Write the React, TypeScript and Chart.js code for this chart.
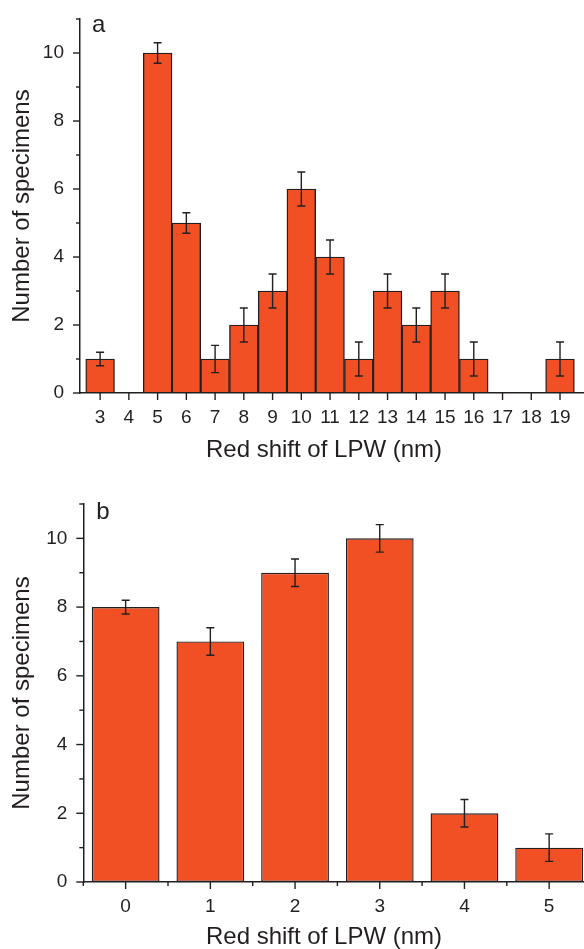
import React, { useEffect, useRef } from 'react';
import { Chart, registerables } from 'chart.js';

Chart.register(...registerables);

// ---------- data ----------
const shiftA = [3, 4, 5, 6, 7, 8, 9, 10, 11, 12, 13, 14, 15, 16, 17, 18, 19];
const countA = [1, 0, 10, 5, 1, 2, 3, 6, 4, 1, 3, 2, 3, 1, 0, 0, 1];
const errA = [0.2, 0, 0.3, 0.3, 0.4, 0.5, 0.5, 0.5, 0.5, 0.5, 0.5, 0.5, 0.5, 0.5, 0, 0, 0.5];

const shiftB = [0, 1, 2, 3, 4, 5];
const countB = [8, 7, 9, 10, 2, 1];
const errB = [0.2, 0.4, 0.4, 0.4, 0.4, 0.4];

const xTitle = 'Red shift of LPW (nm)';
const yTitle = 'Number of specimens';

// ---------- styles ----------
const INK = '#231f20';
const BAR = '#f05023';
const FAMILY = '"Liberation Sans", Arial, Helvetica, sans-serif';
const TICK_FONT = { family: FAMILY, size: 19 };
const TITLE_FONT = { family: FAMILY, size: 24 };

type Cfg = {
  xs: number[];
  ys: number[];
  errs: number[];
  letter: string;
  width: number;
  height: number;
  padTop: number;
  padRight: number;
  yAxisWidth: number;
  xAxisHeight: number;
  xMin: number;
  xMax: number;
  minorX: boolean;
  barPct: number;
  xTitleX: number;
  xTitleY: number;
  letterDx: number;
  letterDy: number;
};

function decorPlugin(cfg: Cfg) {
  return {
    id: 'decor',
    afterDatasetsDraw(chart: any) {
      const ctx = chart.ctx;
      const xs = chart.scales.x;
      const ys = chart.scales.y;
      const area = chart.chartArea;
      const meta = chart.getDatasetMeta(0);
      ctx.save();
      ctx.strokeStyle = INK;
      ctx.lineWidth = 1.4;
      // error bars
      meta.data.forEach((el: any, i: number) => {
        const e = cfg.errs[i];
        if (!e) return;
        const v = cfg.ys[i];
        const x = el.x;
        const y1 = ys.getPixelForValue(v + e);
        const y2 = ys.getPixelForValue(v - e);
        ctx.beginPath();
        ctx.moveTo(x, y1);
        ctx.lineTo(x, y2);
        ctx.moveTo(x - 4, y1);
        ctx.lineTo(x + 4, y1);
        ctx.moveTo(x - 4, y2);
        ctx.lineTo(x + 4, y2);
        ctx.stroke();
      });
      // y ticks
      ys.ticks.forEach((t: any) => {
        const len = t.value % 2 === 0 ? 7 : 4;
        const py = ys.getPixelForValue(t.value);
        ctx.beginPath();
        ctx.moveTo(area.left - len, py);
        ctx.lineTo(area.left, py);
        ctx.stroke();
      });
      // x ticks (major at categories, optional minor between)
      xs.ticks.forEach((t: any, i: number) => {
        const px = xs.getPixelForValue(t.value);
        ctx.beginPath();
        ctx.moveTo(px, area.bottom);
        ctx.lineTo(px, area.bottom + 7);
        if (cfg.minorX) {
          const mx = xs.getPixelForValue(t.value + 0.5);
          ctx.moveTo(mx, area.bottom);
          ctx.lineTo(mx, area.bottom + 4);
          if (i === 0) {
            const lx = xs.getPixelForValue(t.value - 0.5);
            ctx.moveTo(lx, area.bottom);
            ctx.lineTo(lx, area.bottom + 4);
          }
        }
        ctx.stroke();
      });
      ctx.fillStyle = INK;
      // x axis title
      ctx.font = `24px ${FAMILY}`;
      ctx.textBaseline = 'middle';
      ctx.textAlign = 'center';
      ctx.fillText(xTitle, cfg.xTitleX, cfg.xTitleY);
      // panel letter
      ctx.textBaseline = 'alphabetic';
      ctx.textAlign = 'left';
      ctx.fillText(cfg.letter, area.left + cfg.letterDx, area.top + cfg.letterDy);
      ctx.restore();
    },
  };
}

function BarPanel({ cfg, top }: { cfg: Cfg; top: number }) {
  const ref = useRef<HTMLCanvasElement | null>(null);
  useEffect(() => {
    if (!ref.current) return;
    const zeroPad = (s: any) => {
      s.paddingTop = 0;
      s.paddingBottom = 0;
      s.paddingLeft = 0;
      s.paddingRight = 0;
    };
    const chart = new Chart(ref.current, {
      type: 'bar',
      data: {
        datasets: [
          {
            data: cfg.xs.map((x, i) => ({ x, y: cfg.ys[i] })),
            backgroundColor: BAR,
            borderColor: INK,
            borderWidth: 1.4,
            borderSkipped: false,
            barPercentage: cfg.barPct,
            categoryPercentage: 1,
          },
        ],
      },
      options: {
        responsive: false,
        animation: false,
        devicePixelRatio: 1,
        layout: { padding: { left: 0, top: cfg.padTop, right: cfg.padRight, bottom: 0 } },
        plugins: { legend: { display: false }, tooltip: { enabled: false } },
        scales: {
          x: {
            type: 'linear',
            offset: false,
            min: cfg.xMin,
            max: cfg.xMax,
            afterBuildTicks: (s: any) => {
              s.ticks = cfg.xs.map((v) => ({ value: v }));
            },
            ticks: {
              autoSkip: false,
              maxRotation: 0,
              minRotation: 0,
              padding: 13,
              font: TICK_FONT,
              color: INK,
              callback: (v: any) => String(v),
            },
            grid: { display: false, drawTicks: false },
            border: { display: true, color: INK, width: 1.5 },
            title: { display: false },
            afterFit: (s: any) => {
              s.height = cfg.xAxisHeight;
              zeroPad(s);
            },
          },
          y: {
            type: 'linear',
            min: 0,
            max: 11,
            ticks: {
              stepSize: 1,
              autoSkip: false,
              padding: 16,
              font: TICK_FONT,
              color: INK,
              callback: (v: any) => (v % 2 === 0 ? String(v) : ''),
            },
            grid: { display: false, drawTicks: false },
            border: { display: true, color: INK, width: 1.5 },
            title: {
              display: true,
              text: yTitle,
              font: TITLE_FONT,
              color: INK,
              padding: { top: 7.5, bottom: 0 },
            },
            afterFit: (s: any) => {
              s.width = cfg.yAxisWidth;
              zeroPad(s);
            },
          },
        },
      },
      plugins: [decorPlugin(cfg)],
    } as any);
    return () => chart.destroy();
  }, [cfg]);
  return (
    <canvas
      ref={ref}
      width={cfg.width}
      height={cfg.height}
      style={{ position: 'absolute', left: 0, top, display: 'block' }}
    />
  );
}

const cfgA: Cfg = {
  xs: shiftA,
  ys: countA,
  errs: errA,
  letter: 'a',
  width: 600,
  height: 470,
  padTop: 19,
  padRight: 11.25,
  yAxisWidth: 80,
  xAxisHeight: 77,
  xMin: 2.3,
  xMax: 20,
  minorX: false,
  barPct: 1,
  xTitleX: 324,
  xTitleY: 450,
  letterDx: 12,
  letterDy: 13,
};

const cfgB: Cfg = {
  xs: shiftB,
  ys: countB,
  errs: errB,
  letter: 'b',
  width: 600,
  height: 490,
  padTop: 34,
  padRight: 8.5,
  yAxisWidth: 83.3,
  xAxisHeight: 78,
  xMin: -0.5,
  xMax: 5.5,
  minorX: true,
  barPct: 0.8,
  xTitleX: 324,
  xTitleY: 467,
  letterDx: 13,
  letterDy: 15,
};

export default function App() {
  return (
    <div
      style={{
        position: 'absolute',
        left: 0,
        top: 0,
        width: 584,
        height: 949,
        overflow: 'hidden',
        background: '#ffffff',
      }}
    >
      <BarPanel cfg={cfgA} top={0} />
      <BarPanel cfg={cfgB} top={470} />
    </div>
  );
}
